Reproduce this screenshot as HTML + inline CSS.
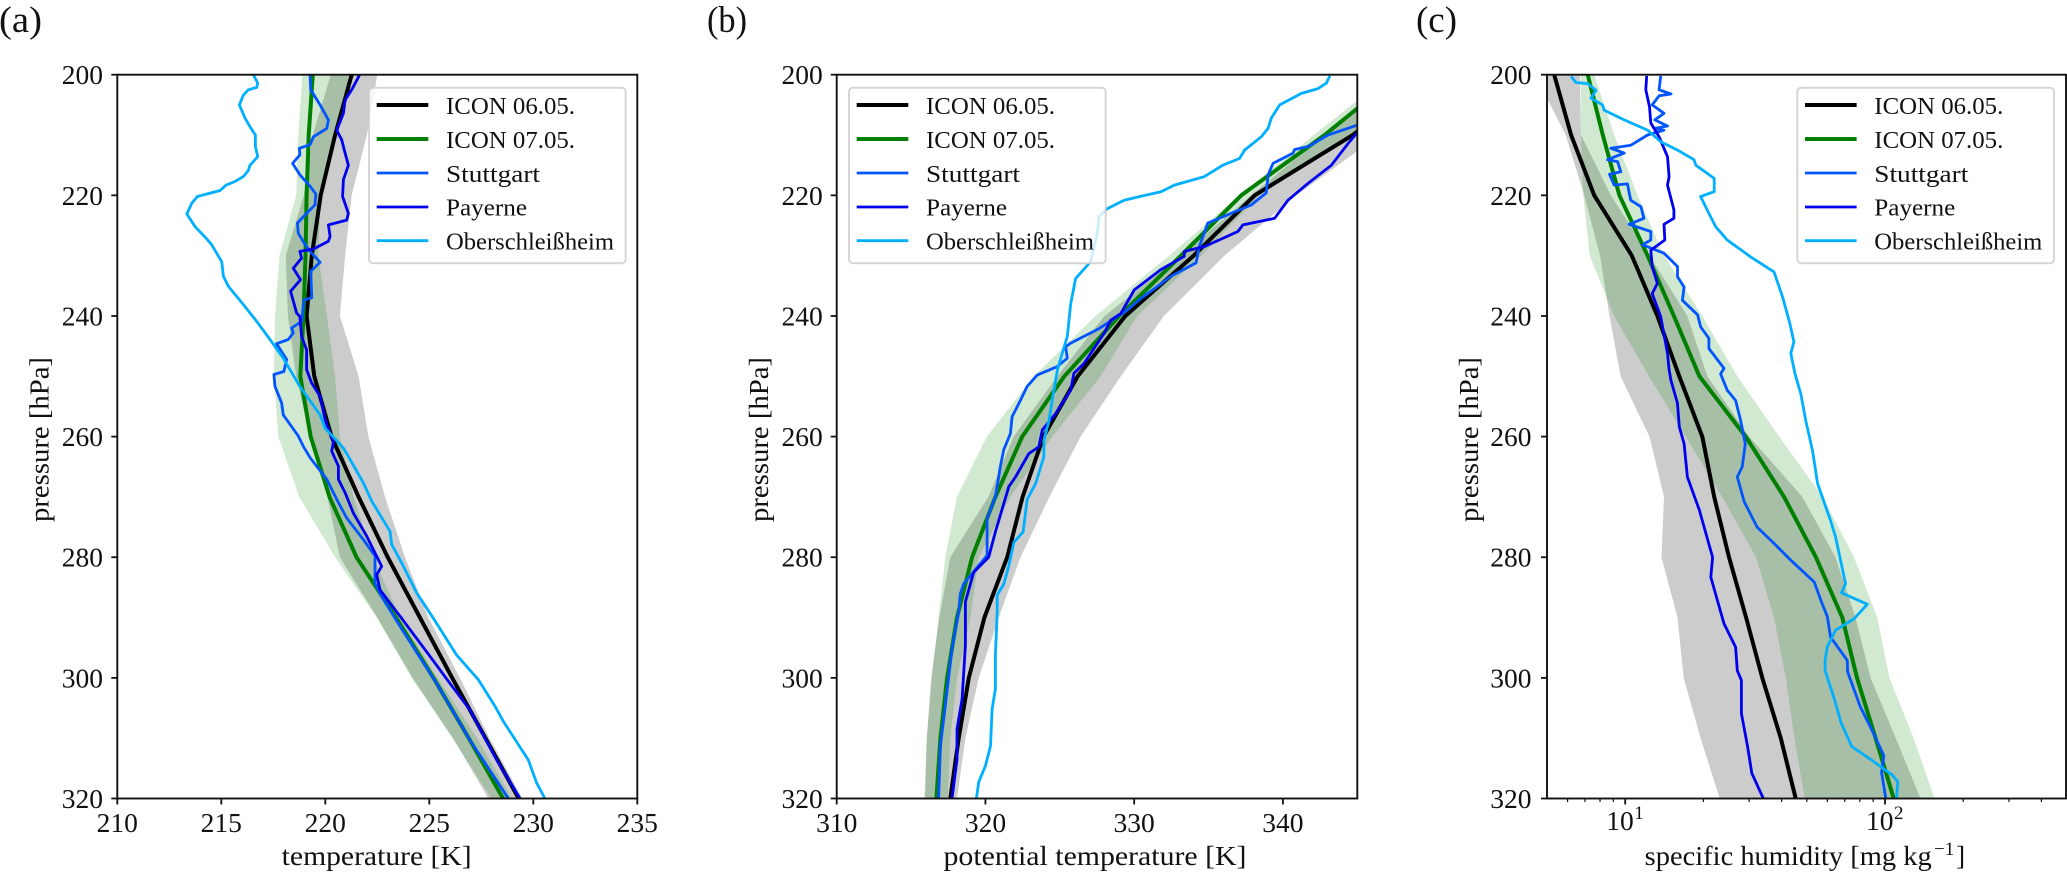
<!DOCTYPE html>
<html lang="en">
<head>
<meta charset="utf-8">
<title>ICON model and radiosonde profiles</title>
<style>
html,body{margin:0;padding:0;background:#fff;}
svg{display:block;}
text{font-family:"Liberation Serif",serif;fill:#111;}
.tick{font-size:27.5px;}
.axis-title{font-size:27.5px;}
.leg{font-size:24.5px;}
.panel-tag{font-size:37px;}
.frame{fill:none;stroke:#111;stroke-width:1.9;}
.legbox{fill:#fff;fill-opacity:.8;stroke:#ccc;stroke-opacity:.8;stroke-width:2;}
</style>
</head>
<body>
<svg id="figure" xmlns="http://www.w3.org/2000/svg" width="2067" height="873" viewBox="0 0 2067 873">
<defs>
<clipPath id="clip-a"><rect x="117.3" y="74.7" width="520" height="723.8"/></clipPath>
<clipPath id="clip-b"><rect x="836.7" y="74.7" width="520.6" height="723.8"/></clipPath>
<clipPath id="clip-c"><rect x="1547" y="74.7" width="520" height="723.8"/></clipPath>
</defs>

<g id="marks-a" clip-path="url(#clip-a)"></g>
<g id="marks-b" clip-path="url(#clip-b)"></g>
<g id="marks-c" clip-path="url(#clip-c)"></g>

<rect class="frame" x="117.3" y="74.7" width="520" height="723.8"/>
<rect class="frame" x="836.7" y="74.7" width="520.6" height="723.8"/>
<rect class="frame" x="1547" y="74.7" width="519" height="723.8"/>
<g id="ticks"></g>

<text class="panel-tag" x="-1" y="32" textLength="43" lengthAdjust="spacingAndGlyphs">(a)</text>
<text class="panel-tag" x="707" y="32" textLength="40" lengthAdjust="spacingAndGlyphs">(b)</text>
<text class="panel-tag" x="1416" y="32" textLength="41" lengthAdjust="spacingAndGlyphs">(c)</text>

<text class="axis-title" transform="rotate(-90 48.5 439.5)" x="48.5" y="439.5" text-anchor="middle" textLength="165" lengthAdjust="spacingAndGlyphs">pressure [hPa]</text>
<text class="axis-title" transform="rotate(-90 768 439.5)" x="768" y="439.5" text-anchor="middle" textLength="165" lengthAdjust="spacingAndGlyphs">pressure [hPa]</text>
<text class="axis-title" transform="rotate(-90 1478 439.5)" x="1478" y="439.5" text-anchor="middle" textLength="165" lengthAdjust="spacingAndGlyphs">pressure [hPa]</text>
<text class="axis-title" x="281.7" y="865" textLength="190" lengthAdjust="spacingAndGlyphs">temperature [K]</text>
<text class="axis-title" x="943.5" y="865" textLength="303" lengthAdjust="spacingAndGlyphs">potential temperature [K]</text>
<text class="axis-title" x="1644.7" y="865" textLength="287" lengthAdjust="spacingAndGlyphs">specific humidity [mg kg</text>
<text x="1934" y="855" font-size="19">&#8722;1</text>
<text class="axis-title" x="1956" y="865">]</text>

<g transform="translate(369 87.7)">
<rect class="legbox" x="0" y="0" width="256.7" height="175.5" rx="4"/>
<line x1="7.7" x2="59.3" y1="17.3" y2="17.3" stroke="#000" stroke-width="4"/>
<line x1="7.7" x2="59.3" y1="51.3" y2="51.3" stroke="#008000" stroke-width="4"/>
<line x1="7.7" x2="59.3" y1="85.3" y2="85.3" stroke="#0055ff" stroke-width="2.8"/>
<line x1="7.7" x2="59.3" y1="119.3" y2="119.3" stroke="#0000ee" stroke-width="2.8"/>
<line x1="7.7" x2="59.3" y1="153" y2="153" stroke="#00b0ff" stroke-width="2.8"/>
<text class="leg" x="77" y="26.3" textLength="129" lengthAdjust="spacingAndGlyphs">ICON 06.05.</text>
<text class="leg" x="77" y="60.3" textLength="129" lengthAdjust="spacingAndGlyphs">ICON 07.05.</text>
<text class="leg" x="77" y="94.3" textLength="94" lengthAdjust="spacingAndGlyphs">Stuttgart</text>
<text class="leg" x="77" y="128" textLength="81" lengthAdjust="spacingAndGlyphs">Payerne</text>
<text class="leg" x="77" y="161.7" textLength="168" lengthAdjust="spacingAndGlyphs">Oberschleißheim</text>
</g>

<g transform="translate(849 87.7)">
<rect class="legbox" x="0" y="0" width="256.7" height="175.5" rx="4"/>
<line x1="7.7" x2="59.3" y1="17.3" y2="17.3" stroke="#000" stroke-width="4"/>
<line x1="7.7" x2="59.3" y1="51.3" y2="51.3" stroke="#008000" stroke-width="4"/>
<line x1="7.7" x2="59.3" y1="85.3" y2="85.3" stroke="#0055ff" stroke-width="2.8"/>
<line x1="7.7" x2="59.3" y1="119.3" y2="119.3" stroke="#0000ee" stroke-width="2.8"/>
<line x1="7.7" x2="59.3" y1="153" y2="153" stroke="#00b0ff" stroke-width="2.8"/>
<text class="leg" x="77" y="26.3" textLength="129" lengthAdjust="spacingAndGlyphs">ICON 06.05.</text>
<text class="leg" x="77" y="60.3" textLength="129" lengthAdjust="spacingAndGlyphs">ICON 07.05.</text>
<text class="leg" x="77" y="94.3" textLength="94" lengthAdjust="spacingAndGlyphs">Stuttgart</text>
<text class="leg" x="77" y="128" textLength="81" lengthAdjust="spacingAndGlyphs">Payerne</text>
<text class="leg" x="77" y="161.7" textLength="168" lengthAdjust="spacingAndGlyphs">Oberschleißheim</text>
</g>

<g transform="translate(1797.3 87.7)">
<rect class="legbox" x="0" y="0" width="256.7" height="175.5" rx="4"/>
<line x1="7.7" x2="59.3" y1="17.3" y2="17.3" stroke="#000" stroke-width="4"/>
<line x1="7.7" x2="59.3" y1="51.3" y2="51.3" stroke="#008000" stroke-width="4"/>
<line x1="7.7" x2="59.3" y1="85.3" y2="85.3" stroke="#0055ff" stroke-width="2.8"/>
<line x1="7.7" x2="59.3" y1="119.3" y2="119.3" stroke="#0000ee" stroke-width="2.8"/>
<line x1="7.7" x2="59.3" y1="153" y2="153" stroke="#00b0ff" stroke-width="2.8"/>
<text class="leg" x="77" y="26.3" textLength="129" lengthAdjust="spacingAndGlyphs">ICON 06.05.</text>
<text class="leg" x="77" y="60.3" textLength="129" lengthAdjust="spacingAndGlyphs">ICON 07.05.</text>
<text class="leg" x="77" y="94.3" textLength="94" lengthAdjust="spacingAndGlyphs">Stuttgart</text>
<text class="leg" x="77" y="128" textLength="81" lengthAdjust="spacingAndGlyphs">Payerne</text>
<text class="leg" x="77" y="161.7" textLength="168" lengthAdjust="spacingAndGlyphs">Oberschleißheim</text>
</g>
</svg>

<script>
// ---------- shared axis values ----------
const modelLevels = [200,210,220,230,240,250,260,270,280,290,300,310,320];
const pressureTicks = [200,220,240,260,280,300,320];
const pressureTickLabels = ['200','220','240','260','280','300','320'];
const tempTicks = [210,215,220,225,230,235];
const tempTickLabels = ['210','215','220','225','230','235'];
const thetaTicks = [310,320,330,340];
const thetaTickLabels = ['310','320','330','340'];
const humidityTicks = [10,100];
const humidityTickBases = ['10','10'];
const humidityTickExponents = ['1','2'];
const humidityMinorTicks = [6,7,8,9,20,30,40,50,60,70,80,90,200,300,400];

// ---------- panel (a) temperature [K] ----------
const tempIcon06 = [221.27,220.47,219.78,219.35,219.1,219.47,220.3,221.6,223.0,224.55,226.1,227.7,229.3];
const tempIcon07 = [219.4,219.2,219.1,219.05,218.95,218.8,219.3,220.2,221.5,223.4,225.2,226.9,228.55];
const tempIcon06Low = [220.26,219.4,218.97,218.1,218.2,218.6,219.26,220.1,220.7,222.5,224.2,226.15,227.84];
const tempIcon06High = [222.5,222.0,221.27,220.95,220.7,221.6,222.07,222.87,223.83,224.95,226.47,227.9,229.47];
const tempIcon07Low = [218.9,218.7,218.6,217.8,217.58,217.53,217.74,218.75,220.47,222.47,224.15,226.1,228.0];
const tempIcon07High = [221.16,220.58,219.78,219.67,220.07,220.47,220.7,221.35,222.3,223.6,225.4,227.3,228.96];

const tempStuttgart = [219.27,219.30,219.75,220.15,220.07,219.43,219.27,218.75,218.78,218.43,218.78,219.27,219.55,219.50,219.10,218.66,218.70,218.98,219.27,219.75,219.30,219.35,218.98,218.86,218.38,218.46,218.22,217.66,218.14,218.01,217.53,217.58,217.90,217.98,218.70,218.94,219.27,220.07,220.55,221.03,221.83,222.39,222.39,222.71,223.35,223.75,225.35,226.95,228.8];
const tempStuttgartP = [200.1,202.5,205,207.5,208.9,210.3,211.6,212.2,213.3,214.7,216.6,218.5,219.8,221.6,223,224.6,226.3,227.9,229.3,231.1,232.6,237,237.3,240.9,242,242.8,243.9,244.6,247.2,249.2,249.7,251.7,254.4,256.4,259.9,261.6,263.5,267.1,270.4,273.5,277.1,279.8,284.3,286.5,290.1,292.3,300.9,310.3,320];
const tempPayerne = [221.64,221.27,220.95,220.87,220.55,220.79,220.95,221.11,220.87,220.83,221.11,221.03,220.15,220.23,220.15,219.43,218.78,218.86,218.46,218.81,218.33,218.62,218.78,218.86,219.10,219.10,219.34,219.75,219.99,220.39,220.31,220.63,220.63,220.95,221.35,221.99,222.39,222.71,222.47,222.63,223.35,223.67,224.07,225.03,225.99,226.95,228.24,229.36];
const tempPayerneP = [200.1,202.5,204.2,206.4,209.2,210.8,213,215,217.4,220.2,223,224.1,224.9,226.8,227.6,228.9,229.3,230.4,232.1,234,235.9,239.5,240.1,243.4,245.6,248.9,251.1,253.3,257.2,261,262.4,264.9,267.1,269.3,272.7,276.5,279.3,281.5,282.9,285.4,288.7,290.1,292,296.4,300.9,305.3,313.6,320];
const tempOber = [216.54,216.75,216.70,216.30,216.06,215.87,216.14,216.43,216.64,216.64,216.75,216.38,216.30,216.06,215.66,215.23,214.94,213.85,213.58,213.34,213.74,214.27,214.54,215.02,215.10,215.34,216.06,216.70,217.34,217.98,218.78,219.75,219.99,220.87,221.19,221.83,222.23,223.11,223.19,223.67,224.39,225.19,226.31,227.36,228.16,228.56,229.76,230.16,230.56];
const tempOberP = [200,201.4,202.1,202.5,203.4,205,207.2,208.9,210,211.9,213.6,215,215.9,216.9,217.7,218.3,219.2,220.2,221.3,223.1,225.2,227.1,228.2,231,233.4,235.1,238.1,240.9,243.9,247,251.7,256.4,258.6,261.9,263.8,267.7,270.7,275.7,277.9,280.9,285.9,290.1,296.2,300.3,304.7,307.2,313.6,317.4,320];

// ---------- panel (b) potential temperature [K] ----------
const thetaIcon06 = [350,344.7,338.1,334,329.4,326.2,323.9,322.5,321.46,319.93,318.88,318.2,317.64];
const thetaIcon07 = [347.8,342.8,337.2,333.15,329,325.3,322.47,320.67,319.1,318.09,317.42,316.97,316.7];
const thetaIcon06Low = [347.9,342.8,337.87,333.15,328,324.83,321.9,320.2,317.64,316.9,316.35,316.05,315.9];
const thetaIcon06High = [351,346.5,340.9,336.07,332,329.1,326.4,324.3,322.36,320.9,319.55,318.65,318.09];
const thetaIcon07Low = [347.2,342.07,337.08,332.36,327.4,323.25,320.1,318.08,317.3,316.85,316.4,316.07,315.95];
const thetaIcon07High = [349.8,344.8,338.43,334.5,330.2,327.75,324.49,321.68,319.55,318.99,318.09,317.64,317.46];

const thetaStuttgart = [345.06,343.04,341.69,340.79,340.68,339.33,339,338.88,337.87,334.95,334.38,334.16,332.47,331.68,330.44,329.55,327.64,325.73,325.39,325.5,324.83,323.48,322.8,322.35,321.79,321.68,321.23,321,320.67,320.11,320.11,318.54,318.31,318.2,317.75,317.3,316.97,316.85];
const thetaStuttgartP = [208.3,210,211.9,212.4,213,214.7,216.6,219.6,221.6,224.6,228.5,231.2,233.4,234.9,237.1,239,242.1,244.5,245.1,247,248.4,249.8,251.7,254,256.7,259.5,262.2,265,270,273.6,279.7,284.4,286.1,289.1,295.2,304.6,311.3,320];
const thetaPayerne = [345.06,344.38,343.26,341.69,340.34,339.44,337.31,336.97,334.72,333.37,333.37,331.8,330,329.1,328.42,327.97,326.62,325.95,325.73,324.71,323.82,323.59,322.92,322.02,321.57,320.67,320.22,319.21,318.65,318.65,318.43,318.09,318.09,317.75];
const thetaPayerneP = [209.4,211.4,215,218,220.8,223.8,224.9,226,228.5,229.3,230.1,232.3,235.7,239.6,240.7,242.9,247.9,249.5,252.3,256.2,258.9,261.7,262.8,266.7,268.3,275.8,280,282.5,287.4,294.6,303.5,308.5,313.5,320];
const thetaOber = [343.15,342.92,342.36,341.24,339.78,339.22,339,338.54,337.42,337.08,335.96,334.72,332.7,331.8,329.32,328.2,327.64,327.52,327.07,326.06,325.73,325.5,325.16,324.83,324.49,324.26,323.93,323.93,323.37,322.81,322.53,321.91,321.57,321.24,320.79,320.79,320.67,320.67,320.45,320.34,320,319.55,319.39];
const thetaOberP = [200.2,201.4,202.3,203.1,205,207.2,208.9,210.3,212.5,213.9,215,216.9,218.3,219.4,220.8,222.2,223.5,226.3,231,233.8,238,243.4,246.2,249,254,257.5,260.6,263.3,267.8,270.4,275.8,277.5,281.4,284.4,286.3,289.1,296.3,301.8,305.2,311.3,314.6,317.3,320];

// ---------- panel (c) specific humidity [mg/kg] ----------
const humIcon06 = [5.33,6.19,7.6,10.6,13.3,16.15,19.8,22,25.1,29.2,33.7,39.7,45.3];
const humIcon07 = [7.17,8.2,9.5,12.2,15.4,19.3,29.1,40.9,54.2,68.5,78,92,108];
const humIcon06Low = [4.5,5.9,6.95,8,8.7,9.6,12.4,14.1,13.8,15.9,16.8,19.5,23.1];
const humIcon06High = [6.7,6.76,8.8,12.4,17.35,20.7,30,48.1,64.5,77,88,110,137];
const humIcon07Low = [6.76,6.76,6.9,7.3,9.07,12.35,17.1,23.6,31.9,37.4,41.5,44.8,49.1];
const humIcon07High = [7.6,9.07,11.15,14.1,19.8,27,39.1,57.5,76,93.3,104,129,155];

const humStuttgart = [13.7,13.5,15,13.5,12.7,14.1,13,14.55,13,14.1,12.2,10.5,8.81,9.91,8.55,9.35,9.62,8.7,9.07,10.2,10.5,11.5,11.8,10.35,12.55,12.55,11.65,14.1,15.9,15.9,16.85,16.6,19,19.5,21,21,24,23.3,24.7,26.6,27.8,29,28.2,27,28.7,32.2,37.4,43.4,53.4,56.6,60,61.7,71.6,71.8,80.3,89.9,98.9,97,100.7];
const humStuttgartP = [200.2,202.5,203.2,203.5,205,206.4,207.5,208.5,208.9,209.2,210,211.7,212.2,213,214.1,214.4,216.1,216.5,218.3,218.1,220.8,221.9,223.8,224.8,226,227.4,228.2,229.6,231.8,233.5,235.2,237.4,239.8,241.8,243.7,245.4,248.7,249.6,252.3,254,257.3,261.2,265,266.7,270.8,275,277.7,280.5,284.1,287.1,289.9,293.2,297.1,299,304.8,309,312.9,315.7,320];
const humPayerne = [12.1,12,12.4,12.55,13.5,14.55,14.75,14.55,15.4,15.4,14.1,14.2,12.55,12.7,13.3,12.7,13.7,14.55,14.75,15,15.9,16.15,16.85,17.35,19.3,21.7,21.35,24,26.6,27,28,28,29.6,30.7,34];
const humPayerneP = [200.2,202.5,205.3,208,210.3,213.6,216.9,218.3,222.4,223.8,224.8,227.4,229.1,231.8,234.6,236.3,240.1,246.2,248.9,250.7,254.5,258.4,261.2,266.7,272.2,280,283.3,291,294.9,298.8,300.4,305.9,311.4,315.8,320];
const humOber = [6.19,6.46,7.17,7.72,7.38,8.18,8.31,9.91,12.2,13.7,15.9,18.4,18.7,22,22,19.5,21,22.3,24.7,30.4,37.4,40.3,43,44.6,43.4,45,47.4,49.5,52.6,55,61.7,64.5,70.5,68,85.5,76,64.5,59.9,58.8,58.8,64,67.8,74.5,86.6,106.7,112,110.7];
const humOberP = [200.3,201.3,201.5,202.6,203.9,205,205.9,207.5,209.2,211.1,212.5,214.1,215,217.2,219.4,220.2,223,225.2,227.4,230.2,232.7,236.8,241.2,244.3,246.2,249.5,252.9,257.3,262.3,267.8,273.9,276.6,284.4,285.9,287.8,290.2,292.1,294.9,297.1,298.8,303.7,307.5,311.4,313.3,316.1,317.2,320];

// ---------- axis functions ----------
const NS = 'http://www.w3.org/2000/svg';
const plotTop = 74.7;
const plotBottom = 798.5;
function yScale(p) {
  return plotTop + (p - 200) * (plotBottom - plotTop) / 120;
}
function linearX(left, right, lo, hi) {
  return function (v) { return left + (v - lo) * (right - left) / (hi - lo); };
}
function logX(left, right, lo, hi) {
  return function (v) {
    return left + (Math.log10(v) - Math.log10(lo)) * (right - left) / (Math.log10(hi) - Math.log10(lo));
  };
}
function create(tag, parent) {
  const el = document.createElementNS(NS, tag);
  parent.appendChild(el);
  return el;
}
function drawBand(parent, xf, low, high, fill, opacity, name) {
  const pts = [];
  modelLevels.forEach(function (p, i) { pts.push(xf(low[i]).toFixed(1) + ',' + yScale(p).toFixed(1)); });
  for (let i = modelLevels.length - 1; i >= 0; i--) {
    pts.push(xf(high[i]).toFixed(1) + ',' + yScale(modelLevels[i]).toFixed(1));
  }
  const el = create('polygon', parent);
  el.setAttribute('points', pts.join(' '));
  el.setAttribute('fill', fill);
  el.setAttribute('fill-opacity', opacity);
  
  
}
function drawLine(parent, xf, xs, ps, color, width, name) {
  const pts = xs.map(function (v, i) { return xf(v).toFixed(1) + ',' + yScale(ps[i]).toFixed(1); });
  const el = create('polyline', parent);
  el.setAttribute('points', pts.join(' '));
  el.setAttribute('fill', 'none');
  el.setAttribute('stroke', color);
  el.setAttribute('stroke-width', width);
  el.setAttribute('stroke-linejoin', 'round');
  
  
}
function drawPanel(groupId, xf, s) {
  const g = document.getElementById(groupId);
  drawBand(g, xf, s.lowK, s.highK, '#000000', 0.2, 'icon-0605-spread-band');
  drawBand(g, xf, s.lowG, s.highG, '#008000', 0.18, 'icon-0705-spread-band');
  drawLine(g, xf, s.icon06, modelLevels, '#000000', 4, 'icon-0605-line');
  drawLine(g, xf, s.icon07, modelLevels, '#008000', 4, 'icon-0705-line');
  drawLine(g, xf, s.st, s.stP, '#0055ff', 2.8, 'stuttgart-line');
  drawLine(g, xf, s.pa, s.paP, '#0000ee', 2.8, 'payerne-line');
  drawLine(g, xf, s.ob, s.obP, '#00b0ff', 2.8, 'oberschleissheim-line');
}
function tickLine(parent, x1, y1, x2, y2, w, name) {
  const el = create('line', parent);
  el.setAttribute('x1', x1);
  el.setAttribute('y1', y1);
  el.setAttribute('x2', x2);
  el.setAttribute('y2', y2);
  el.setAttribute('stroke', '#111');
  el.setAttribute('stroke-width', w);
  
  
}
function drawYAxis(parent, axisX, labelRight) {
  pressureTicks.forEach(function (p, i) {
    const y = yScale(p);
    tickLine(parent, axisX - 6, y, axisX, y, 1.8, 'y-tick');
    const t = create('text', parent);
    t.setAttribute('class', 'tick');
    t.setAttribute('x', labelRight);
    t.setAttribute('y', y + 9.5);
    t.setAttribute('text-anchor', 'end');
    
    
    t.textContent = pressureTickLabels[i];
  });
}
function drawXAxis(parent, xf, ticks, labels) {
  ticks.forEach(function (v, i) {
    const x = xf(v);
    tickLine(parent, x, plotBottom, x, plotBottom + 6, 1.8, 'x-tick');
    const t = create('text', parent);
    t.setAttribute('class', 'tick');
    t.setAttribute('x', x);
    t.setAttribute('y', 832);
    t.setAttribute('text-anchor', 'middle');
    
    
    t.textContent = labels[i];
  });
}

// ---------- draw ----------
const xA = linearX(117.3, 637.3, 210, 235);
const xB = linearX(836.7, 1357.3, 310, 345);
const xC = logX(1547, 2066.6, 5, 500);

drawPanel('marks-a', xA, {
  lowK: tempIcon06Low, highK: tempIcon06High, lowG: tempIcon07Low, highG: tempIcon07High,
  icon06: tempIcon06, icon07: tempIcon07,
  st: tempStuttgart, stP: tempStuttgartP, pa: tempPayerne, paP: tempPayerneP, ob: tempOber, obP: tempOberP
});
drawPanel('marks-b', xB, {
  lowK: thetaIcon06Low, highK: thetaIcon06High, lowG: thetaIcon07Low, highG: thetaIcon07High,
  icon06: thetaIcon06, icon07: thetaIcon07,
  st: thetaStuttgart, stP: thetaStuttgartP, pa: thetaPayerne, paP: thetaPayerneP, ob: thetaOber, obP: thetaOberP
});
drawPanel('marks-c', xC, {
  lowK: humIcon06Low, highK: humIcon06High, lowG: humIcon07Low, highG: humIcon07High,
  icon06: humIcon06, icon07: humIcon07,
  st: humStuttgart, stP: humStuttgartP, pa: humPayerne, paP: humPayerneP, ob: humOber, obP: humOberP
});

const tickGroup = document.getElementById('ticks');
drawYAxis(tickGroup, 117.3, 103);
drawYAxis(tickGroup, 836.7, 822.7);
drawYAxis(tickGroup, 1547, 1531.5);
drawXAxis(tickGroup, xA, tempTicks, tempTickLabels);
drawXAxis(tickGroup, xB, thetaTicks, thetaTickLabels);

humidityTicks.forEach(function (v, i) {
  const x = xC(v);
  tickLine(tickGroup, x, plotBottom, x, plotBottom + 6, 1.8, 'x-tick');
  const t = create('text', tickGroup);
  t.setAttribute('class', 'tick');
  t.setAttribute('x', x - 19);
  t.setAttribute('y', 830);
  
  
  t.textContent = humidityTickBases[i];
  const e = create('text', tickGroup);
  e.setAttribute('x', x + 9);
  e.setAttribute('y', 819);
  e.setAttribute('font-size', '19');
  
  
  e.textContent = humidityTickExponents[i];
});
humidityMinorTicks.forEach(function (v) {
  const x = xC(v);
  tickLine(tickGroup, x, plotBottom, x, plotBottom + 3.5, 1.2, 'x-minor-tick');
});
</script>
</body>
</html>
